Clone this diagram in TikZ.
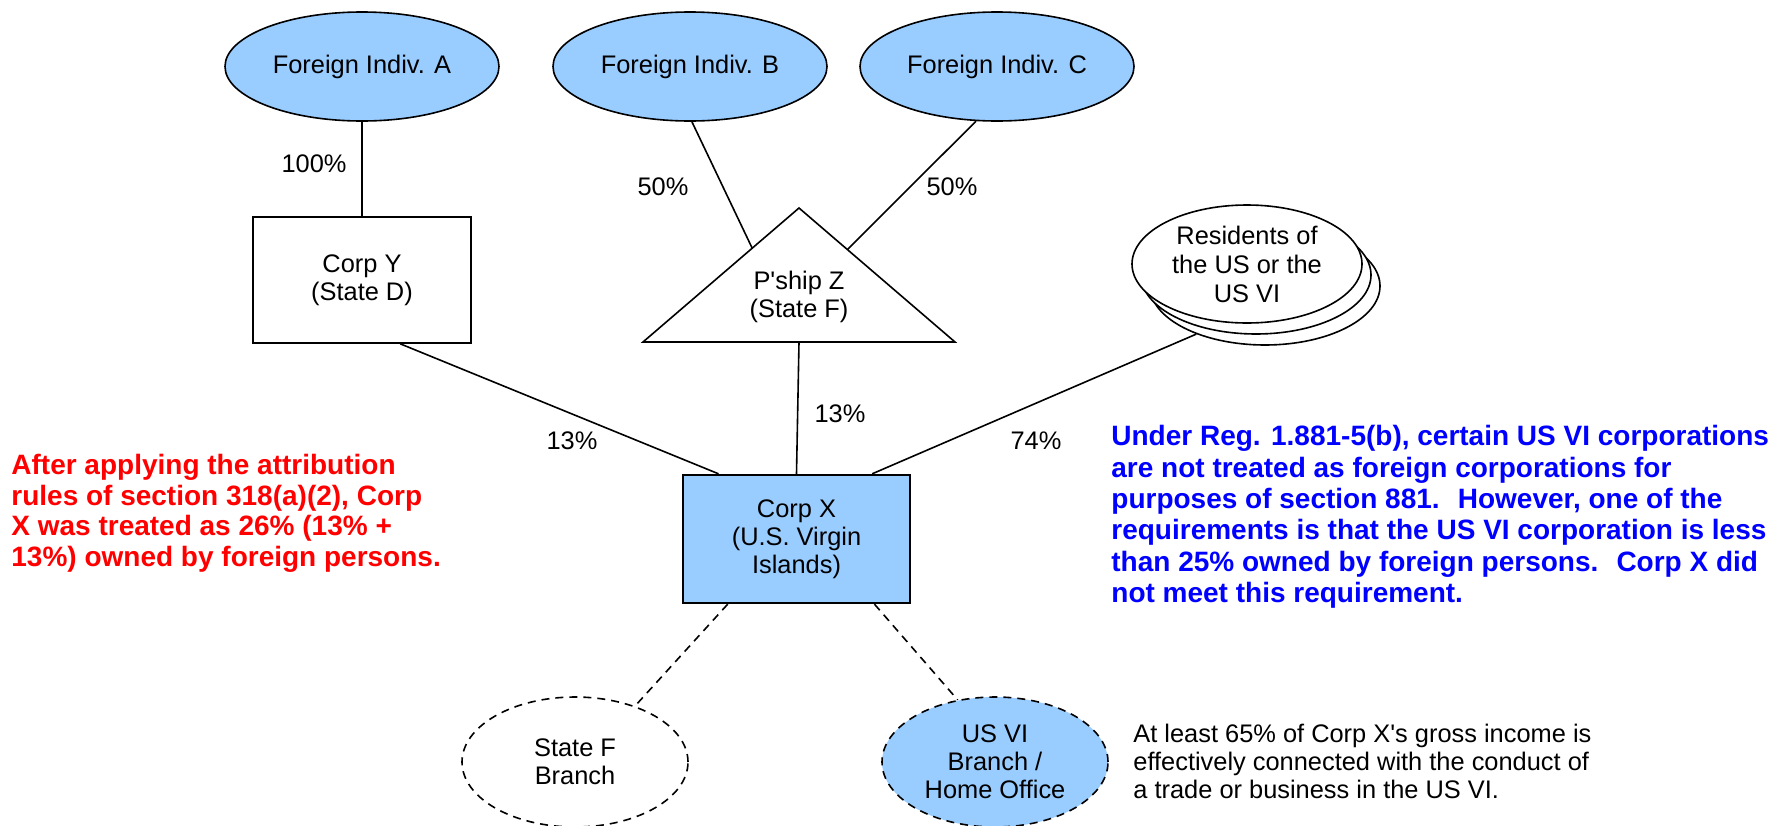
\documentclass[tikz,border=0pt]{standalone}
\usepackage{fontspec}
\setmainfont{Liberation Sans}
\usetikzlibrary{shapes.geometric,calc}
\definecolor{vblue}{HTML}{99CCFF}
\definecolor{rtext}{HTML}{FF0000}
\definecolor{btext}{HTML}{0000FF}
\begin{document}
\begin{tikzpicture}[x=0.5pt,y=-0.5pt,
  every node/.style={font=\fontsize{12.7}{14}\selectfont, inner sep=0pt, align=center},
  conn/.style={line width=0.8pt},
  dconn/.style={line width=0.8pt, dash pattern=on 4pt off 3pt},
  ent/.style={draw, line width=0.8pt, ellipse, fill=vblue, minimum width=137pt, minimum height=54.5pt},
  corp/.style={draw, line width=0.8pt, rectangle, minimum width=109pt, minimum height=63pt},
  res/.style={draw, line width=0.8pt, ellipse, fill=white, inner sep=-6pt, minimum width=115pt, minimum height=59pt, font=\fontsize{12.7}{14.5}\selectfont},
  branch/.style={draw, line width=0.8pt, dash pattern=on 4pt off 3pt, ellipse, inner sep=-4pt, minimum width=113pt, minimum height=65pt},
  pct/.style={},
  rednote/.style={anchor=north west, align=left, text=rtext, font=\bfseries\fontsize{14}{15.3}\selectfont},
  bluenote/.style={anchor=north west, align=left, text=btext, font=\bfseries\fontsize{14}{15.7}\selectfont},
  plainnote/.style={anchor=north west, align=left}
]
\useasboundingbox (0,0) rectangle (1773,825);

% top owners
\node[ent] (A) at (362,66.5) {Foreign Indiv. A};
\node[ent] (B) at (690,66.5) {Foreign Indiv. B};
\node[ent] (C) at (997,66.5) {Foreign Indiv. C};

% Corp Y
\node[corp] (Y) at (362,280) {Corp Y\\(State D)};

% Partnership Z (triangle)
\coordinate (Ztop) at (799,208);
\coordinate (ZL) at (643,342);
\coordinate (ZR) at (955,342);
\draw[conn, line join=miter] (Ztop) -- (ZR) -- (ZL) -- cycle;
\node (Z) at (799,297) {P\textquotesingle ship Z\\(State F)};
\coordinate (zb) at ($(ZL)!0.70!(Ztop)$);
\coordinate (zc) at ($(ZR)!0.69!(Ztop)$);
\coordinate (zbot) at ($(ZL)!0.5!(ZR)$);

% Residents (stacked)
\node[res] (R3) at (1265,286) {};
\node[res] (R2) at (1256,275) {};
\node[res] (R1) at (1247,264) {Residents of\\the US or the\\US VI};

% Corp X
\node[corp, fill=vblue, line width=1.2pt, minimum width=113.5pt, minimum height=64pt] (X) at (796.5,539) {Corp X\\(U.S. Virgin\\Islands)};

% branches
\node[branch] (SF) at (575,762) {State F\\Branch};
\node[branch, fill=vblue] (UV) at (995,762) {US VI\\Branch /\\Home Office};

% connectors
\draw[conn] (A.south) -- (Y.north);
\draw[conn] (B.272) -- (zb);
\draw[conn] (C.249) -- (zc);
\draw[conn] ($(Y.south west)!0.674!(Y.south east)$) -- ($(X.north west)!0.16!(X.north east)$);
\draw[conn] (zbot) -- (X.north);
\draw[conn] (R3.215) -- ($(X.north west)!0.83!(X.north east)$);
\draw[dconn] ($(X.south west)!0.2!(X.south east)$) -- (SF.43);
\draw[dconn] ($(X.south west)!0.84!(X.south east)$) -- (UV.121);

% percentage labels
\node[pct] (p1) at (314,164) {100\%};
\node[pct] (p2) at (663,187) {50\%};
\node[pct] (p3) at (952,187) {50\%};
\node[pct] (p4) at (572,441) {13\%};
\node[pct] (p5) at (840,414) {13\%};
\node[pct] (p6) at (1036,441) {74\%};

% notes
\node[rednote] (n1) at (11,454) {After applying the attribution\\rules of section 318(a)(2), Corp\\X was treated as 26\% (13\% +\\13\%) owned by foreign persons.};
\node[bluenote] (n2) at (1111,425) {Under Reg. 1.881-5(b), certain US VI corporations\\are not treated as foreign corporations for\\purposes of section 881.~ However, one of the\\requirements is that the US VI corporation is less\\than 25\% owned by foreign persons.~ Corp X did\\not meet this requirement.};
\node[plainnote] (n3) at (1133,724) {At least 65\% of Corp X\textquotesingle s gross income is\\effectively connected with the conduct of\\a trade or business in the US VI.};
\end{tikzpicture}
\end{document}
